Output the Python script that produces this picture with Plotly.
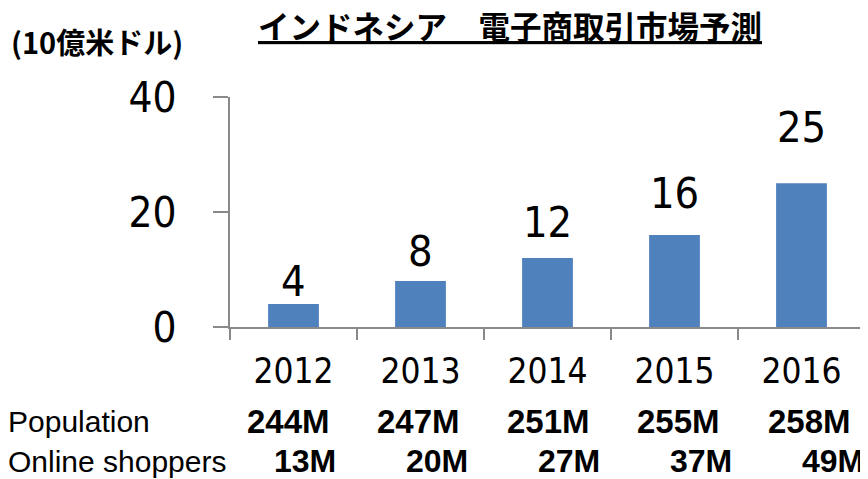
import plotly.graph_objects as go

years = ["2012", "2013", "2014", "2015", "2016"]
market = [4, 8, 12, 16, 25]
population = ["244M", "247M", "251M", "255M", "258M"]
shoppers = ["13M", "20M", "27M", "37M", "49M"]
title_text = "インドネシア　電子商取引市場予測"
unit_text = "(10億米ドル)"
row_labels = ["Population", "Online shoppers"]

NUM_FONT = "Liberation Sans Narrow, DejaVu Sans Condensed, Arial Narrow, sans-serif"
TXT_FONT = "Liberation Sans, Arial, sans-serif"
CJK_FONT = "Noto Sans CJK JP, sans-serif"
AXIS_COLOR = "#898989"

# The page body has an 8px default margin; figure is sized/positioned to compensate.
OFF = 8
W, H = 868 - OFF, 479 - OFF
PLOT_L, PLOT_R, PLOT_T, PLOT_B = 230, 865, 97, 327   # page pixels
L, R, T, B = PLOT_L - OFF, 868 - PLOT_R, PLOT_T - OFF, 479 - PLOT_B
plot_w = PLOT_R - PLOT_L
plot_h = PLOT_B - PLOT_T


def px_to_paper_x(px):
    return (px - PLOT_L) / plot_w


def px_to_paper_y(py):
    return (PLOT_B - py) / plot_h


fig = go.Figure()
fig.add_trace(go.Bar(
    x=years, y=market, marker=dict(color="#4F81BD", line=dict(width=0)),
    hoverinfo="x+y",
))

annotations = []
# data labels (label scale is stretched relative to bar scale in the original)
for i, v in enumerate(market):
    annotations.append(dict(
        x=i, y=v, xref="x", yref="y", text=str(v), showarrow=False,
        yanchor="bottom", yshift=1.58 * v - 10,
        font=dict(family=NUM_FONT, size=43, color="#000000"),
    ))

# unit label
annotations.append(dict(
    x=px_to_paper_x(9), y=px_to_paper_y(41), xref="paper", yref="paper",
    xanchor="left", yanchor="middle", text="<b>" + unit_text + "</b>",
    showarrow=False, font=dict(family=CJK_FONT, size=29, color="#000000"),
))

# table rows
row_y = [421, 461]
row_start = [288, 305]
row_step = [130.3, 132]
row_font = [33, 32]
row_vals = [population, shoppers]
for r in range(2):
    annotations.append(dict(
        x=px_to_paper_x(OFF), y=px_to_paper_y(row_y[r]), xref="paper", yref="paper",
        xanchor="left", yanchor="middle", text=row_labels[r], showarrow=False,
        xshift=-2,
        font=dict(family=TXT_FONT, size=30, color="#000000"),
    ))
    for i, val in enumerate(row_vals[r]):
        annotations.append(dict(
            x=px_to_paper_x(row_start[r] + i * row_step[r]), y=px_to_paper_y(row_y[r]),
            xref="paper", yref="paper", xanchor="center", yanchor="middle",
            text="<b>" + val + "</b>", showarrow=False,
            font=dict(family=TXT_FONT, size=row_font[r], color="#000000"),
        ))

fig.update_layout(
    width=W, height=H,
    margin=dict(l=L, r=R, t=T, b=B, autoexpand=False),
    paper_bgcolor="white", plot_bgcolor="white",
    showlegend=False,
    bargap=0.6,
    title=dict(
        text="<b><u>" + title_text + "</u></b>",
        x=(510 - OFF) / W, xanchor="center", xref="container",
        y=1 - (28 - OFF) / H, yanchor="middle", yref="container",
        font=dict(family=CJK_FONT, size=31.5, color="#000000"),
    ),
    annotations=annotations,
    xaxis=dict(
        type="category", range=[-0.5, 4.5], showline=True, linecolor=AXIS_COLOR, linewidth=2,
        ticks="outside", tickson="boundaries", ticklen=11, tickcolor=AXIS_COLOR, tickwidth=2,
        showgrid=False, tickfont=dict(family=NUM_FONT, size=35, color="#000000"),
        ticklabelstandoff=12, automargin=False, tickangle=0,
    ),
    yaxis=dict(
        range=[0, 40], dtick=20, showline=True, linecolor=AXIS_COLOR, linewidth=2,
        ticks="outside", ticklen=15, tickcolor=AXIS_COLOR, tickwidth=2,
        showgrid=False, zeroline=False, automargin=False,
        tickfont=dict(family=NUM_FONT, size=42, color="#000000"),
        ticklabelstandoff=28,
    ),
)

fig.write_html("out.html")
